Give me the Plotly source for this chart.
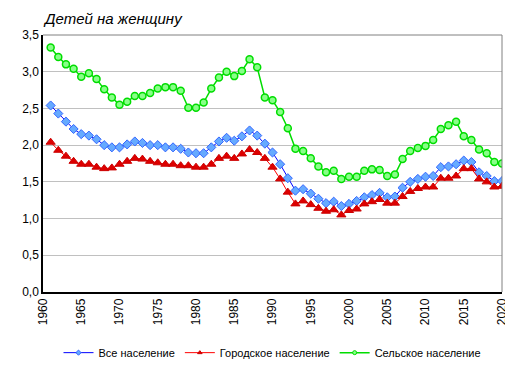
import plotly.graph_objects as go

years = list(range(1961, 2021))

total = [2.54, 2.43, 2.32, 2.22, 2.15, 2.13, 2.08, 2.00, 1.97, 1.97,
         2.01, 2.05, 2.03, 2.00, 2.00, 1.97, 1.97, 1.95, 1.90, 1.89,
         1.89, 1.97, 2.05, 2.10, 2.06, 2.12, 2.20, 2.13, 2.02, 1.90,
         1.74, 1.55, 1.38, 1.40, 1.34, 1.27, 1.21, 1.23, 1.17, 1.20,
         1.24, 1.29, 1.32, 1.35, 1.29, 1.30, 1.42, 1.50, 1.54, 1.57,
         1.58, 1.70, 1.71, 1.74, 1.79, 1.77, 1.63, 1.58, 1.51, 1.51]

urban = [2.04, 1.93, 1.85, 1.78, 1.74, 1.74, 1.70, 1.68, 1.69, 1.74,
         1.78, 1.82, 1.81, 1.78, 1.76, 1.74, 1.74, 1.72, 1.72, 1.70,
         1.70, 1.74, 1.82, 1.85, 1.82, 1.88, 1.94, 1.90, 1.82, 1.70,
         1.54, 1.36, 1.20, 1.24, 1.19, 1.14, 1.10, 1.12, 1.05, 1.11,
         1.13, 1.20, 1.23, 1.26, 1.21, 1.21, 1.30, 1.37, 1.41, 1.43,
         1.43, 1.55, 1.55, 1.58, 1.68, 1.68, 1.54, 1.50, 1.43, 1.44]

rural = [3.33, 3.20, 3.10, 3.04, 2.93, 2.98, 2.90, 2.76, 2.65, 2.55,
         2.59, 2.67, 2.67, 2.71, 2.77, 2.79, 2.79, 2.74, 2.51, 2.51,
         2.58, 2.77, 2.92, 3.00, 2.94, 3.01, 3.17, 3.06, 2.65, 2.61,
         2.45, 2.23, 1.95, 1.92, 1.82, 1.71, 1.63, 1.65, 1.54, 1.57,
         1.57, 1.65, 1.67, 1.66, 1.58, 1.60, 1.81, 1.92, 1.96, 1.99,
         2.07, 2.22, 2.27, 2.32, 2.12, 2.07, 1.94, 1.89, 1.77, 1.75]

names = ["Все население", "Городское население", "Сельское население"]
x_ticks = list(range(1960, 2021, 5))
y_ticks = [0, 0.5, 1.0, 1.5, 2.0, 2.5, 3.0, 3.5]
y_title = "Детей на женщину"

FONT = "Liberation Sans, Arial, sans-serif"

styles = [
    dict(line=dict(color="#0000FF", width=1),
         symbol="diamond", mcolor="#66AAFF", mline="#3366FF", size=7, lw=1),
    dict(line=dict(color="#FF0000", width=1),
         symbol="triangle-up", mcolor="#DD0000", mline="#CC0000", size=8, lw=1),
    dict(line=dict(color="#00DD00", width=1.5),
         symbol="circle", mcolor="#88FF88", mline="#00DD00", size=7, lw=1.5),
]
series = [total, urban, rural]

fig = go.Figure()
for s, st, nm in zip(series, styles, names):
    fig.add_trace(go.Scatter(
        x=years, y=s, name=nm, mode="lines+markers", showlegend=False,
        line=st["line"],
        marker=dict(symbol=st["symbol"], size=st["size"], color=st["mcolor"],
                    line=dict(color=st["mline"], width=st["lw"]))))
for st, nm in zip(styles, names):
    fig.add_trace(go.Scatter(
        x=[None], y=[None], name=nm, mode="lines+markers",
        line=st["line"],
        marker=dict(symbol=st["symbol"], size=4, color=st["mcolor"],
                    line=dict(color=st["mline"], width=1))))

# gray top/right border
fig.add_shape(type="line", xref="paper", yref="paper", x0=0, y0=1, x1=1, y1=1,
              line=dict(color="#808080", width=1), layer="above")
fig.add_shape(type="line", xref="paper", yref="paper", x0=1, y0=0, x1=1, y1=1,
              line=dict(color="#808080", width=1), layer="above")

fig.update_layout(
    width=513, height=371,
    margin=dict(l=35, r=14, t=27, b=81),
    paper_bgcolor="white", plot_bgcolor="white",
    separators=",.",
    font=dict(family=FONT, size=12, color="#000000"),
    showlegend=True,
    legend=dict(orientation="h", x=0.5, xanchor="center", y=-0.236, yanchor="middle",
                font=dict(family=FONT, size=11), itemwidth=30, tracegroupgap=0,
                bgcolor="rgba(0,0,0,0)"),
    annotations=[dict(text="<i>" + y_title + "</i>", xref="paper", yref="paper",
                      x=0.0, y=1.0, xanchor="left", yanchor="bottom", yshift=6, xshift=-2,
                      showarrow=False, font=dict(family=FONT, size=15))],
)
fig.update_xaxes(range=[1960, 2020], tickvals=x_ticks, tickangle=-90,
                 showgrid=False, showline=True, linecolor="#000000", linewidth=1.5,
                 ticks="", zeroline=False, tickfont=dict(size=12))
fig.update_yaxes(range=[0, 3.5], tickvals=y_ticks, tickformat=".1f",
                 showgrid=True, gridcolor="#C0C0C0", gridwidth=1,
                 showline=True, linecolor="#000000", linewidth=1.5,
                 ticks="", zeroline=False, tickfont=dict(size=12))

fig.write_html("out.html")
